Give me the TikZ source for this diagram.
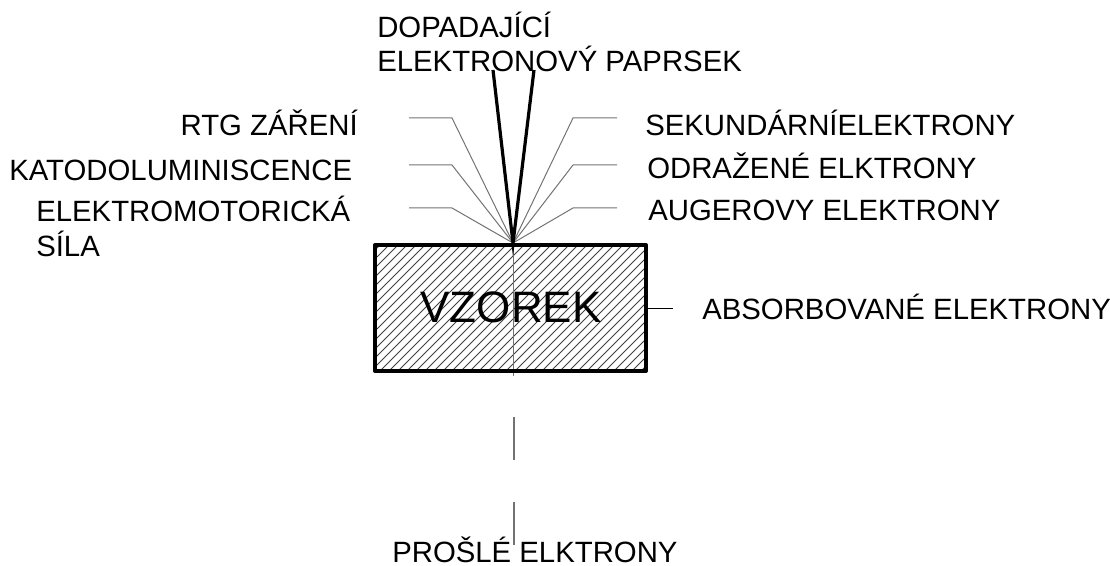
\documentclass[tikz,border=0pt]{standalone}
\usepackage{fontspec}
\setmainfont{Liberation Sans}
\begin{document}
\begin{tikzpicture}[x=0.75pt,y=-0.75pt,
  lbl/.style={inner sep=0pt,font=\fontsize{22}{26}\selectfont},
  thin/.style={draw=black!55,line width=0.75pt},
  beam/.style={draw=black,line width=2.4pt},
  hatch/.style={draw=black!75,line width=0.55pt}]
\useasboundingbox (0,0) rectangle (1110,566);
% apex
\coordinate (apex) at (513,243);
% labels top
\node[lbl,anchor=base west] (t1) at (377,38) {DOPADAJÍCÍ};
\node[lbl,anchor=base west] (t2) at (377,72) {ELEKTRONOVÝ PAPRSEK};
% left labels
\node[lbl,anchor=base east] (l1) at (358,136) {RTG ZÁŘENÍ};
\node[lbl,anchor=base west] (l2) at (9,181) {KATODOLUMINISCENCE};
\node[lbl,anchor=base west] (l3) at (36,222) {ELEKTROMOTORICKÁ};
\node[lbl,anchor=base west] (l4) at (36,257) {SÍLA};
% right labels
\node[lbl,anchor=base west] (r1) at (645,136) {SEKUNDÁRNÍELEKTRONY};
\node[lbl,anchor=base west] (r2) at (647,179) {ODRAŽENÉ ELKTRONY};
\node[lbl,anchor=base west] (r3) at (648,221) {AUGEROVY ELEKTRONY};
\node[lbl,anchor=base west] (ab) at (702,320) {ABSORBOVANÉ ELEKTRONY};
\node[lbl,anchor=base west] (pr) at (392,562) {PROŠLÉ ELKTRONY};
% fan lines
\coordinate (la1) at (409,118); \coordinate (lb1) at (452,118);
\coordinate (la2) at (409,165); \coordinate (lb2) at (452,165);
\coordinate (la3) at (409,208); \coordinate (lb3) at (452,208);
\coordinate (ra1) at (617,118); \coordinate (rb1) at (573,118);
\coordinate (ra2) at (617,165); \coordinate (rb2) at (573,165);
\coordinate (ra3) at (617,208); \coordinate (rb3) at (573,208);
\foreach \i in {1,2,3}{
  \draw[thin] (la\i) -- (lb\i) -- (apex);
  \draw[thin] (ra\i) -- (rb\i) -- (apex);
}
% box with hatch
\coordinate (bnw) at (375,245);
\coordinate (bse) at (646,371);
\begin{scope}
  \clip (bnw) rectangle (bse);
  \foreach \k in {0,9,...,430}{
    \draw[hatch] (375-130+\k,371) -- ++(130,-130);
  }
\end{scope}
\draw[thin] (apex) -- (513,376);
\node[inner sep=0pt,font=\fontsize{33}{40}\selectfont,anchor=base] (vz) at (511,323) {VZOREK};
\draw[line width=3pt,line join=round] (bnw) rectangle (bse);
% beam
\coordinate (b1) at (493,70);
\coordinate (b2) at (534,70);
\draw[beam,line join=miter] (b1) -- (apex) -- (b2);
% absorbed line
\coordinate (a1) at (647,309);
\coordinate (a2) at (673,309);
\draw[draw=black,line width=0.75pt] (a1) -- (a2);
% transmitted
\coordinate (p1) at (514,417); \coordinate (p2) at (514,460);
\coordinate (p3) at (514,502); \coordinate (p4) at (514,545);
\draw[thin,line width=1pt] (p1) -- (p2);
\draw[thin,line width=1pt] (p3) -- (p4);
\end{tikzpicture}
\end{document}
